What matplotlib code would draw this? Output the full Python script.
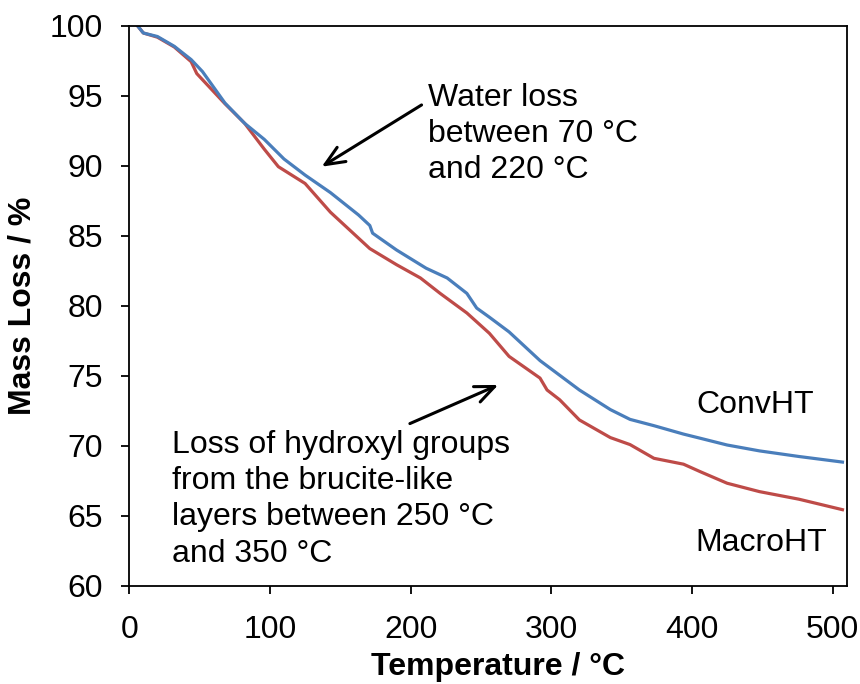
import numpy as np
import matplotlib
matplotlib.use("Agg")
import matplotlib.pyplot as plt

plt.rcParams['font.family'] = ['Liberation Sans', 'DejaVu Sans']

# TGA traces (temperature in degC, remaining mass in %)
temp_conv = [6, 10, 20, 32, 44, 52, 68, 82, 96, 110, 125, 143, 163, 171, 173,
             190, 211, 226, 240, 247, 256, 270, 292, 306, 320, 342, 356, 373,
             394, 406, 425, 448, 476, 507]
mass_conv = [100.0, 99.5, 99.25, 98.55, 97.6, 96.75, 94.5, 93.05, 91.9, 90.5,
             89.35, 88.1, 86.5, 85.75, 85.2, 84.0, 82.7, 82.0, 80.9, 79.85,
             79.2, 78.15, 76.1, 75.05, 74.0, 72.6, 71.9, 71.45, 70.85, 70.55,
             70.07, 69.65, 69.25, 68.85]

temp_macro = [6, 10, 20, 32, 44, 48, 68, 82, 96, 106, 125, 143, 171, 190, 207,
              221, 240, 256, 270, 292, 297, 306, 320, 342, 356, 373, 394, 406,
              425, 448, 476, 507]
mass_macro = [100.0, 99.5, 99.2, 98.5, 97.45, 96.6, 94.45, 93.05, 91.2, 89.95,
              88.75, 86.7, 84.1, 82.95, 82.0, 80.9, 79.5, 78.05, 76.4, 74.85,
              74.0, 73.3, 71.86, 70.6, 70.1, 69.12, 68.7, 68.16, 67.34, 66.74,
              66.2, 65.45]

xticks = [0, 100, 200, 300, 400, 500]
yticks = [60, 65, 70, 75, 80, 85, 90, 95, 100]

blue = '#4A7EBB'
red = '#BE4B48'
fs = 23

fig = plt.figure(figsize=(8.6, 6.84), dpi=100)
ax = fig.add_axes([0.1503, 0.1433, 0.8342, 0.8187])

ax.plot(temp_macro, mass_macro, color=red, lw=2.3, solid_joinstyle='round')
ax.plot(temp_conv, mass_conv, color=blue, lw=2.3, solid_joinstyle='round')

ax.set_xlim(0, 510)
ax.set_ylim(60, 100)
ax.set_xticks(xticks)
ax.set_yticks(yticks)
ax.tick_params(direction='out', length=6, width=1.3, labelsize=fs, colors='black')
ax.tick_params(axis='y', pad=13)
ax.tick_params(axis='x', pad=15)
for s in ax.spines.values():
    s.set_linewidth(1.3)
    s.set_color('black')

ax.set_xlabel('Temperature / °C', fontsize=fs, fontweight='bold')
ax.set_ylabel('Mass Loss / %', fontsize=fs, fontweight='bold')
ax.xaxis.set_label_coords(0.514, -0.118)
ax.yaxis.set_label_coords(-0.128, 0.5)

# annotations
ax.text(212.3, 95.95, 'Water loss\nbetween 70 °C\nand 220 °C', fontsize=fs,
        ha='left', va='top', linespacing=1.27)
ax.annotate('', xy=(136.8, 89.95), xytext=(207.8, 94.36),
            arrowprops=dict(arrowstyle='->,head_length=0.7,head_width=0.3',
                            lw=2.2, color='black', shrinkA=0, shrinkB=0,
                            mutation_scale=20))

ax.text(30.1, 71.15, 'Loss of hydroxyl groups\nfrom the brucite-like\n'
        'layers between 250 °C\nand 350 °C', fontsize=fs,
        ha='left', va='top', linespacing=1.27)
ax.annotate('', xy=(262.3, 74.36), xytext=(199.5, 71.6),
            arrowprops=dict(arrowstyle='->,head_length=0.7,head_width=0.3',
                            lw=2.2, color='black', shrinkA=0, shrinkB=0,
                            mutation_scale=20))

ax.text(444.9, 72.95, 'ConvHT', fontsize=fs, ha='center', va='center')
ax.text(449.1, 63.1, 'MacroHT', fontsize=fs, ha='center', va='center')

fig.savefig('out.png', dpi=100)
